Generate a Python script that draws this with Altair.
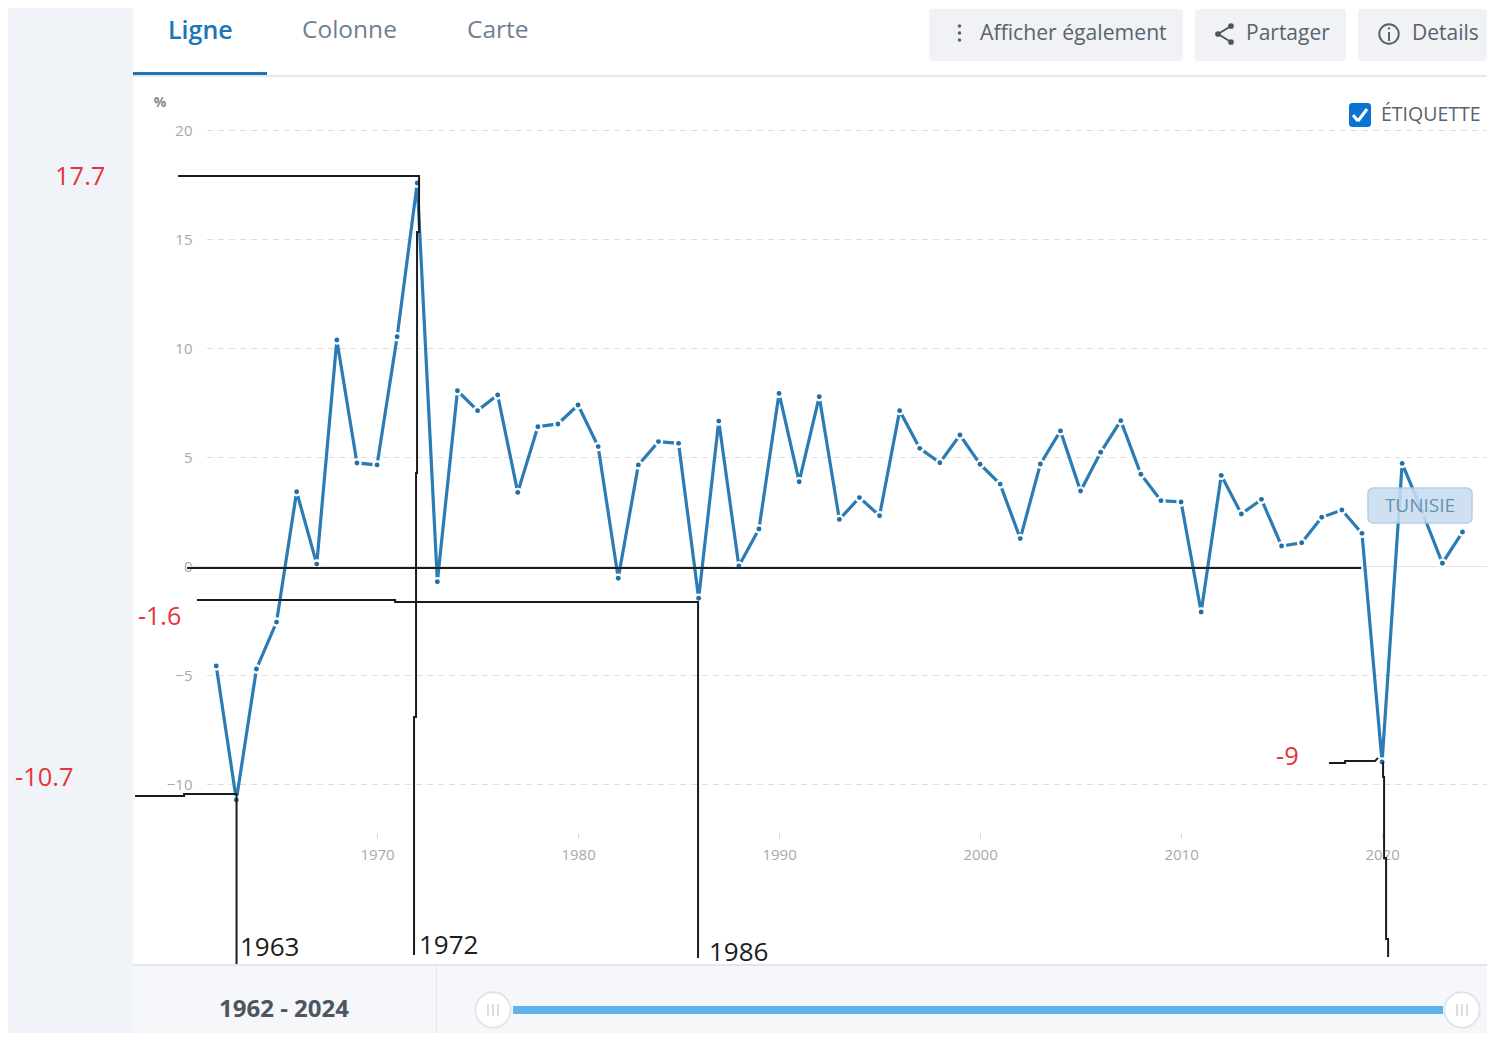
import altair as alt

# ---- data ----
YEARS = list(range(1962, 2025))
GROWTH = [-4.56, -10.71, -4.70, -2.55, 3.43, 0.11, 10.39, 4.75, 4.66, 10.54,
          17.59, -0.70, 8.06, 7.15, 7.87, 3.40, 6.41, 6.54, 7.41, 5.50,
          -0.54, 4.66, 5.73, 5.65, -1.46, 6.67, 0.02, 1.72, 7.94, 3.89,
          7.79, 2.16, 3.16, 2.33, 7.15, 5.42, 4.76, 6.03, 4.69, 3.78,
          1.28, 4.70, 6.22, 3.46, 5.24, 6.69, 4.23, 3.02, 2.96, -2.09,
          4.18, 2.41, 3.08, 0.94, 1.09, 2.26, 2.59, 1.52, -8.97, 4.73,
          2.5, 0.15, 1.58]
GRID_VALUES = [20, 15, 10, 5, -5, -10]
Y_TICKS = [20, 15, 10, 5, 0, -5, -10]
X_TICKS = [1970, 1980, 1990, 2000, 2010, 2020]

# hand-drawn black annotation strokes, in data units
STROKE_1972_X = [1960.10, 1972.09, 1972.09, 1971.99, 1971.99, 1971.94, 1971.94, 1971.84, 1971.84]
STROKE_1972_Y = [17.91, 17.91, 15.34, 15.34, 4.29, 4.29, -6.90, -6.90, -17.82]
STROKE_1963_X = [1957.96, 1960.40, 1960.40, 1963.01, 1963.01]
STROKE_1963_Y = [-10.53, -10.53, -10.44, -10.44, -18.23]
STROKE_1986_X = [1961.04, 1970.90, 1970.90, 1985.97, 1985.97]
STROKE_1986_Y = [-1.54, -1.54, -1.63, -1.63, -17.96]
STROKE_ZERO_X = [1960.55, 2018.96]
STROKE_ZERO_Y = [-0.07, -0.07]
STROKE_2020H_X = [2017.36, 2018.16, 2018.16, 2019.65, 2019.80]
STROKE_2020H_Y = [-9.01, -9.01, -8.92, -8.92, -8.78]
STROKE_2020V_X = [2020.05, 2020.05, 2020.10, 2020.10, 2020.20, 2020.20, 2020.30, 2020.30]
STROKE_2020V_Y = [-8.97, -9.66, -9.66, -13.37, -13.37, -17.09, -17.09, -17.91]
STROKES = [(STROKE_1972_X, STROKE_1972_Y), (STROKE_1963_X, STROKE_1963_Y),
           (STROKE_1986_X, STROKE_1986_Y), (STROKE_ZERO_X, STROKE_ZERO_Y),
           (STROKE_2020H_X, STROKE_2020H_Y), (STROKE_2020V_X, STROKE_2020V_Y)]

FONT = "Open Sans"
X_SCALE = alt.Scale(domain=[1951.64, 2025.22], range=[0, 1479], zero=False, nice=False)
Y_SCALE = alt.Scale(domain=[25.62, -21.40], range=[0, 1025], zero=False, nice=False)
ONE = alt.Data(values=[{}])
series = [{"year": y, "value": v} for y, v in zip(YEARS, GROWTH)]


def box(x0, y0, x1, y1, fill, radius=0, stroke=None, sw=1, opacity=1):
    kw = dict(fill=fill, cornerRadius=radius, opacity=opacity)
    if stroke:
        kw.update(stroke=stroke, strokeWidth=sw)
    return alt.Chart(ONE).mark_rect(**kw).encode(
        x=alt.value(x0 - 8), x2=alt.value(x1 - 8), y=alt.value(y0 - 8), y2=alt.value(y1 - 8))


def seg(x0, y0, x1, y1, color, w=1):
    return alt.Chart(ONE).mark_rule(color=color, strokeWidth=w).encode(
        x=alt.value(x0 - 8), x2=alt.value(x1 - 8), y=alt.value(y0 - 8), y2=alt.value(y1 - 8))


def dot(x, y, r, fill, stroke=None, sw=1):
    kw = dict(filled=True, fill=fill, size=3.1416 * r * r, opacity=1)
    if stroke:
        kw.update(stroke=stroke, strokeWidth=sw)
    else:
        kw.update(strokeWidth=0)
    return alt.Chart(ONE).mark_point(**kw).encode(x=alt.value(x - 8), y=alt.value(y - 8))


def label(s, x, y, size, color, align="left", weight="normal"):
    return alt.Chart(ONE).mark_text(text=s, font=FONT, fontSize=size, color=color, align=align,
                                    baseline="middle", fontWeight=weight).encode(
        x=alt.value(x - 8), y=alt.value(y - 8))


layers = []

# page furniture
layers += [
    box(8, 8, 133, 1033, "#f0f4f8"),
    box(133, 965, 1487, 1033, "#f5f7fa"),
    seg(133, 965, 1487, 965, "#e4e6e9", 2),
    seg(436.5, 965, 436.5, 1033, "#e4e6e9", 1),
    seg(133, 76, 1487, 76, "#e6e9ec", 2),
    box(133, 72, 267, 75, "#1b75bb"),
    box(929, 9, 1183, 61, "#f0f2f5", 3),
    box(1195, 9, 1346, 61, "#f0f2f5", 3),
    box(1358, 9, 1487, 61, "#f0f2f5", 3),
]

# grid
grid = alt.Chart(alt.Data(values=[{"g": g} for g in GRID_VALUES])).mark_rule(
    color="#dedede", strokeWidth=1, strokeDash=[6, 5]).encode(
    y=alt.Y("g:Q", scale=Y_SCALE, axis=None), x=alt.value(199), x2=alt.value(1479))
layers.append(grid)
zero = alt.Chart(alt.Data(values=[{"g": 0}])).mark_rule(color="#e2e2e2", strokeWidth=1).encode(
    y=alt.Y("g:Q", scale=Y_SCALE, axis=None), x=alt.value(180), x2=alt.value(1479))
layers.append(zero)

base = alt.Chart(alt.Data(values=series))
line = base.mark_line(color="#2b7bb4", strokeWidth=3.2, interpolate="linear").encode(
    x=alt.X("year:Q", scale=X_SCALE, title=None,
            axis=alt.Axis(values=X_TICKS, format="d", offset=-200, domain=False, grid=False,
                          tickColor="#d5d5d5", tickSize=5, labelFont=FONT, labelFontSize=15,
                          labelColor="#a8a8a8", labelPadding=9, labelFlush=False,
                          labelOverlap=False)),
    y=alt.Y("value:Q", scale=Y_SCALE, title=None,
            axis=alt.Axis(values=Y_TICKS, offset=-184, domain=False, grid=False, ticks=False,
                          labelFont=FONT, labelFontSize=15, labelColor="#a8a8a8",
                          labelPadding=0, labelOverlap=False, format="d")))
layers.append(line)
enc = dict(x=alt.X("year:Q", scale=X_SCALE, axis=None), y=alt.Y("value:Q", scale=Y_SCALE, axis=None))
layers.append(base.mark_point(filled=True, fill="#ffffff", size=90, opacity=1, strokeWidth=0).encode(**enc))
layers.append(base.mark_point(filled=True, fill="#1f6fa8", size=24, opacity=1, strokeWidth=0).encode(**enc))

# series tag
layers += [box(1368, 488, 1472, 523, "#c9deee", 5, "#a9cbe3", 1.5, 0.88),
           label("TUNISIE", 1420, 506, 19, "#5f93b8", "center")]

# black annotation strokes
for i, (xs, ys) in enumerate(STROKES):
    d = [{"sx": a, "sy": b, "o": k} for k, (a, b) in enumerate(zip(xs, ys))]
    layers.append(alt.Chart(alt.Data(values=d)).mark_line(color="#1c1c1c", strokeWidth=2).encode(
        x=alt.X("sx:Q", scale=X_SCALE, axis=None), y=alt.Y("sy:Q", scale=Y_SCALE, axis=None),
        order="o:Q"))

# annotation text
layers += [
    label("17.7", 55, 177, 25.5, "#e8323c"),
    label("-10.7", 15, 778, 25.5, "#e8323c"),
    label("-1.6", 138, 617, 25, "#e8323c"),
    label("-9", 1276, 757, 25.5, "#e8323c"),
    label("1963", 240, 948, 26, "#1c1c1c"),
    label("1972", 419, 946, 26, "#1c1c1c"),
    label("1986", 709, 953, 26, "#1c1c1c"),
    label("%", 160, 103, 14, "#8a8a8a", "center", "bold"),
]

# tabs and buttons
layers += [
    label("Ligne", 168, 31, 25, "#1b75bb", "left", 600),
    label("Colonne", 302, 31, 24.5, "#6f7f8e"),
    label("Carte", 467, 31, 24.5, "#6f7f8e"),
    label("Afficher également", 980, 34, 21.2, "#59636d"),
    label("Partager", 1246, 34, 21, "#59636d"),
    label("Details", 1412, 34, 21, "#59636d"),
    label("ÉTIQUETTE", 1381, 115, 19.5, "#59636d"),
]
for yy in (26, 33, 40):
    layers.append(dot(959.5, yy, 2, "#59636d"))
layers += [
    seg(1218, 34, 1231, 26, "#4b5560", 2), seg(1218, 34, 1231, 42, "#4b5560", 2),
    dot(1218, 34, 3.2, "#4b5560"), dot(1231, 26, 3.2, "#4b5560"), dot(1231, 42, 3.2, "#4b5560"),
    dot(1389, 34, 11, "#f0f2f5", "#59636d", 2),
    seg(1389, 32, 1389, 41, "#59636d", 2), dot(1389, 28.5, 1.3, "#59636d"),
]

# check box
layers += [
    box(1349, 103, 1371, 127, "#0b74d1", 3),
    seg(1353, 115, 1358, 121, "#ffffff", 3), seg(1358, 121, 1367, 109, "#ffffff", 3),
]

# period slider
layers += [
    label("1962 - 2024", 284, 1010, 24, "#4c5560", "center", "bold"),
    box(513, 1006, 1443, 1014, "#5eb3e8"),
    dot(493, 1010, 20, "#ffffff", "#e3e6e9", 2),
    dot(1462, 1010, 20, "#ffffff", "#e3e6e9", 2),
]
for cx in (493, 1462):
    for dx in (-5, 0, 5):
        layers.append(seg(cx + dx, 1004, cx + dx, 1016, "#cfd3d7", 1.5))

chart = alt.layer(*layers).resolve_axis(x="independent", y="independent").properties(
    width=1479, height=1025, padding=0,
    autosize=alt.AutoSizeParams(type="none"),
).configure_view(stroke=None)

chart.save("out.html", embed_options={"renderer": "svg", "actions": False})
